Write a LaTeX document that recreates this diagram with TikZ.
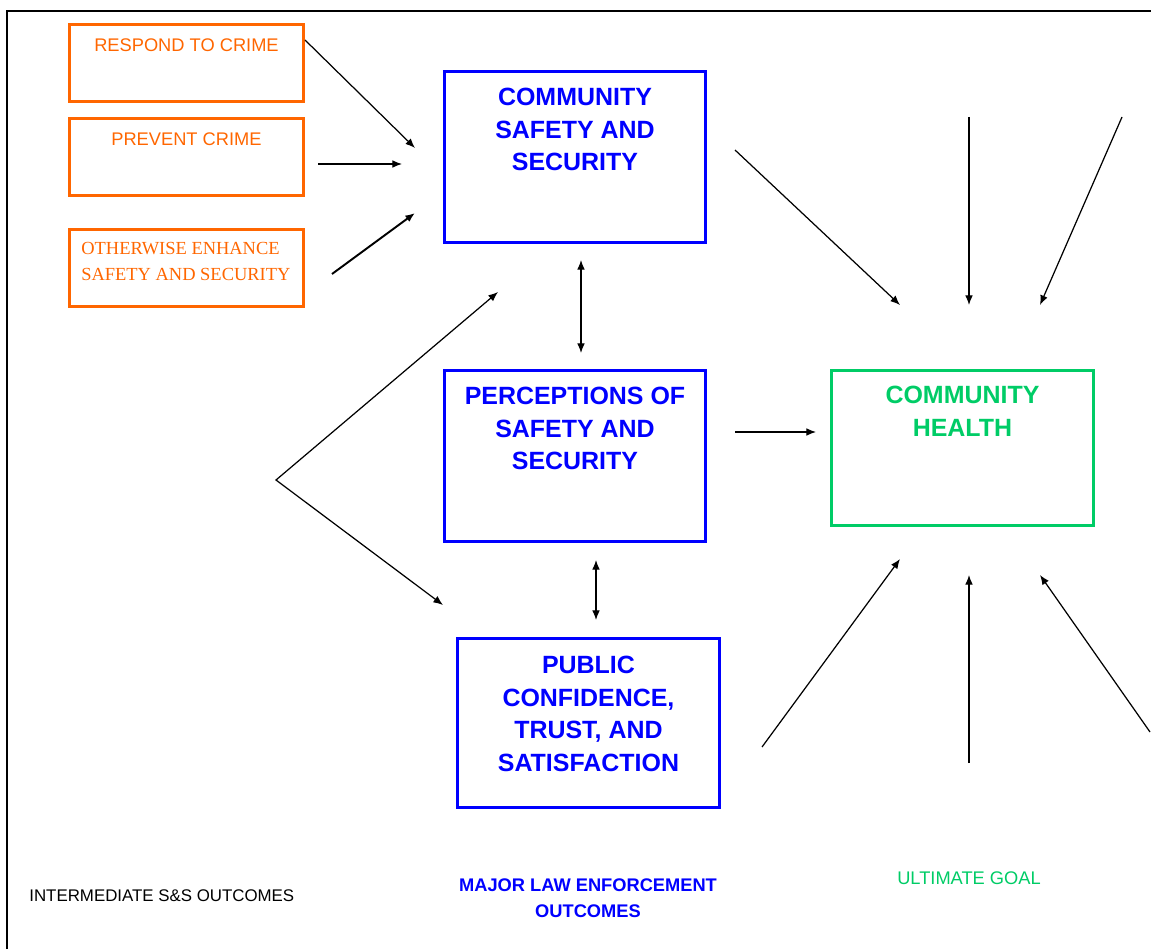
\documentclass[tikz,border=0pt]{standalone}
\usepackage{fontspec}
\setmainfont{Liberation Sans}
\newfontfamily\timesfont{Liberation Serif}
\usetikzlibrary{arrows.meta}
\definecolor{crimeorange}{HTML}{FF6600}
\definecolor{lawblue}{HTML}{0000FF}
\definecolor{goalgreen}{HTML}{00CC66}

\begin{document}
\begin{tikzpicture}[x=0.02cm, y=-0.02cm,
    box/.style={draw, line width=1.7pt, outer sep=0pt, inner sep=0pt, anchor=north west},
    crimebox/.style={box, crimeorange, minimum width=4.68cm, minimum height=1.54cm},
    lawbox/.style={box, lawblue, minimum width=5.22cm, minimum height=3.42cm},
    goalbox/.style={box, goalgreen, minimum width=5.24cm, minimum height=3.1cm},
    crimetxt/.style={text=crimeorange, inner sep=0pt, font=\fontsize{10.4}{12.5}\selectfont},
    lawtxt/.style={text=lawblue, inner sep=0pt, anchor=north, align=center,
      font=\fontsize{14.2}{18.7}\selectfont\bfseries},
    tip/.tip={Latex[length=5.5pt,width=4.4pt]},
    arr/.style={-tip, line width=0.7pt},
    twoway/.style={tip-tip, line width=0.7pt}
  ]
  \useasboundingbox (0,0) rectangle (1151,949);
  \draw[line width=1.1pt] (7,949) -- (7,11) -- (1151,11);

  % intermediate outcomes
  \node[crimebox] (respond) at (69.5,24.5) {};
  \node[crimebox] (prevent) at (69.5,118.5) {};
  \node[crimebox] (enhance) at (69.5,229.5) {};
  \node[crimetxt, anchor=north] at ([yshift=-0.27cm]respond.north) {RESPOND TO CRIME};
  \node[crimetxt, anchor=north] at ([yshift=-0.27cm]prevent.north) {PREVENT CRIME};
  \node[crimetxt, anchor=north west, align=left, font=\timesfont\fontsize{10.5}{14.7}\selectfont]
    at ([xshift=0.23cm,yshift=-0.25cm]enhance.north west) {OTHERWISE ENHANCE\\SAFETY AND SECURITY};

  % major law enforcement outcomes
  \node[lawbox] (safety) at (444.5,71.5) {};
  \node[lawbox] (percept) at (444.5,370.5) {};
  \node[lawbox, minimum width=5.24cm, minimum height=3.38cm] (trust) at (457.5,638.5) {};
  \node[lawtxt] at ([yshift=-0.32cm]safety.north) {COMMUNITY\\SAFETY AND\\SECURITY};
  \node[lawtxt] at ([yshift=-0.32cm]percept.north) {PERCEPTIONS OF\\SAFETY AND\\SECURITY};
  \node[lawtxt] at ([yshift=-0.34cm]trust.north) {PUBLIC\\CONFIDENCE,\\TRUST, AND\\SATISFACTION};

  % ultimate goal
  \node[goalbox] (health) at (831.5,370.5) {};
  \node[lawtxt, text=goalgreen] at ([yshift=-0.3cm]health.north) {COMMUNITY\\HEALTH};

  % column labels
  \node[anchor=west, inner sep=0pt, font=\fontsize{9.6}{11.5}\selectfont] (intlabel) at (29,896) {INTERMEDIATE S\&S OUTCOMES};
  \node[text=lawblue, align=center, inner sep=0pt, font=\fontsize{10.4}{14.7}\selectfont\bfseries] (lawlabel) at (588,898) {MAJOR LAW ENFORCEMENT\\OUTCOMES};
  \node[text=goalgreen, inner sep=0pt, font=\fontsize{10.4}{12.5}\selectfont] (goallabel) at (969,878) {ULTIMATE GOAL};

  % arrow ends
  \coordinate (respond-out) at (305,40);   \coordinate (respond-in) at (415,148);
  \coordinate (prevent-out) at (318,164);  \coordinate (prevent-in) at (402,164);
  \coordinate (enhance-out) at (332,274);  \coordinate (enhance-in) at (415,213);
  \coordinate (safety-dn) at (581,260);    \coordinate (percept-up) at (581,353);
  \coordinate (percept-dn) at (596,560);   \coordinate (trust-up) at (596,620);
  \coordinate (fork) at (276,480);
  \coordinate (fork-up) at (498,292);      \coordinate (fork-dn) at (443,605);
  \coordinate (safety-out) at (735,150);   \coordinate (health-nw) at (900,305);
  \coordinate (top-mid) at (969,117);      \coordinate (health-n) at (969,305);
  \coordinate (top-right) at (1122,117);   \coordinate (health-ne) at (1040,305);
  \coordinate (percept-out) at (735,432);  \coordinate (health-w) at (816,432);
  \coordinate (trust-out) at (762,747);    \coordinate (health-sw) at (900,559);
  \coordinate (bot-mid) at (969,763);      \coordinate (health-s) at (969,575);
  \coordinate (bot-right) at (1150,732);   \coordinate (health-se) at (1040,575);

  \draw[arr] (respond-out) -- (respond-in);
  \draw[arr] (prevent-out) -- (prevent-in);
  \draw[arr, line width=1.1pt] (enhance-out) -- (enhance-in);
  \draw[twoway] (safety-dn) -- (percept-up);
  \draw[twoway] (percept-dn) -- (trust-up);
  \draw[twoway] (fork-up) -- (fork) -- (fork-dn);
  \draw[arr] (safety-out) -- (health-nw);
  \draw[arr] (top-mid) -- (health-n);
  \draw[arr] (top-right) -- (health-ne);
  \draw[arr] (percept-out) -- (health-w);
  \draw[arr] (trust-out) -- (health-sw);
  \draw[arr] (bot-mid) -- (health-s);
  \draw[arr] (bot-right) -- (health-se);
\end{tikzpicture}
\end{document}
